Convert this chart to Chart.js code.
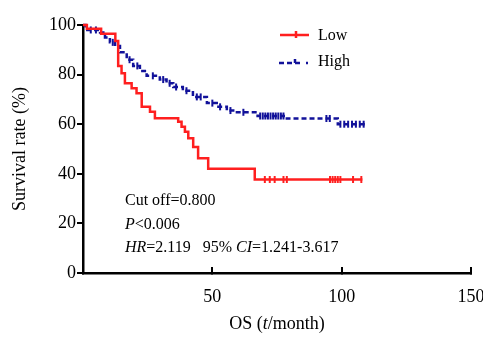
<!DOCTYPE html>
<html>
<head>
<meta charset="utf-8">
<script src="https://cdn.jsdelivr.net/npm/chart.js@4.4.0/dist/chart.umd.min.js"></script>
<style>
html, body { margin: 0; padding: 0; background: #fff; }
</style>
</head>
<body>
<canvas id="km" width="483" height="337"></canvas>
<script>
// Low group (red) - step points
var lowTime = [0, 1.5, 7, 12.5, 13.6, 14.9, 16.2, 18.8, 20.7, 22.7, 25.9, 27.8, 36.8, 38.1, 39.4, 40.7, 42.6, 44.5, 48.4, 66.4, 108];
var lowSurv = [100, 98.5, 96.5, 93.5, 83.5, 80.5, 76.5, 74.5, 72.5, 67, 65, 62.4, 61, 59, 57, 54.3, 50.8, 46.3, 42, 37.7, 37.7];
var lowCensor = [70.3, 72.2, 74.1, 77.5, 78.8, 95.5, 96.5, 97.5, 98.5, 99.5, 104.4, 107.6];

// High group (blue)
var highTime = [0, 1, 6.6, 8.5, 10.4, 12.4, 14.3, 16.9, 19.4, 22, 24.6, 29.7, 32.3, 34.9, 38.6, 42.5, 47.9, 51.7, 55.6, 59.5, 67.5, 78.8, 98.5, 109];
var highSurv = [100, 98, 97, 95, 93, 91.5, 89, 86, 83.5, 81.5, 79.5, 78, 76.5, 75, 73.5, 71, 68.5, 67, 65.5, 64.8, 63.3, 62.3, 60, 60];
var highCensor = [3, 5, 11.5, 18, 21, 27, 31, 33.5, 36, 40, 44, 45.5, 50, 53, 57, 62, 68.5, 69.5, 70.5, 71.5, 72.5, 73.5, 74.5, 75.5, 76.5, 77.5, 94.1, 95.4, 99.5, 101, 102.5, 104, 105.5, 107, 108.5];

var yTicks = [0, 20, 40, 60, 80, 100];
var xTicks = [0, 50, 100, 150];

var RED = '#ff1f1f';
var BLUE = '#12129a';
var SERIF = '"Liberation Serif", "Times New Roman", serif';

function survAt(T, S, t) {
    var s = S[0];
    for (var i = 0; i < T.length; i++) {
        if (T[i] <= t) s = S[i];
    }
    return s;
}
function pts(T, S) {
    return T.map(function (t, i) { return { x: t, y: S[i] }; });
}
function censorPts(C, T, S) {
    return C.map(function (t) { return { x: t, y: survAt(T, S, t) }; });
}

function drawRich(ctx, x, y, parts, size) {
    ctx.textBaseline = 'middle';
    ctx.textAlign = 'left';
    parts.forEach(function (p) {
        ctx.font = (p[1] ? 'italic ' : '') + size + 'px ' + SERIF;
        ctx.fillText(p[0], x, y);
        x += ctx.measureText(p[0]).width;
    });
}

var textPlugin = {
    id: 'kmText',
    afterDraw: function (chart) {
        var ctx = chart.ctx;
        ctx.save();
        ctx.fillStyle = '#000';
        // annotation
        drawRich(ctx, 125, 201, [['Cut off=0.800', false]], 16);
        drawRich(ctx, 125, 225, [['P', true], ['<0.006', false]], 16);
        drawRich(ctx, 125, 248, [['HR', true], ['=2.119   95% ', false], ['CI', true], ['=1.241-3.617', false]], 16);

        // legend
        ctx.lineWidth = 2.5;
        ctx.strokeStyle = RED;
        ctx.beginPath();
        ctx.moveTo(280, 35); ctx.lineTo(309, 35);
        ctx.moveTo(296, 31); ctx.lineTo(296, 38);
        ctx.stroke();
        ctx.strokeStyle = BLUE;
        ctx.setLineDash([5, 3]);
        ctx.beginPath();
        ctx.moveTo(279, 63); ctx.lineTo(303, 63);
        ctx.stroke();
        ctx.setLineDash([]);
        ctx.beginPath();
        ctx.moveTo(295, 59); ctx.lineTo(295, 63);
        ctx.moveTo(306, 63); ctx.lineTo(308, 63);
        ctx.stroke();
        drawRich(ctx, 318, 36, [['Low', false]], 16);
        drawRich(ctx, 318, 62, [['High', false]], 16);

        // x axis title
        var parts = [['OS (', false], ['t', true], ['/month)', false]];
        var w = 0;
        parts.forEach(function (p) {
            ctx.font = (p[1] ? 'italic ' : '') + '18px ' + SERIF;
            w += ctx.measureText(p[0]).width;
        });
        drawRich(ctx, 277 - w / 2, 324, parts, 18);
        ctx.restore();
    }
};

var chart = new Chart(document.getElementById('km'), {
    type: 'line',
    data: {
        datasets: [
            {
                label: 'Low',
                data: pts(lowTime, lowSurv),
                stepped: 'before',
                borderColor: RED,
                borderWidth: 2.5,
                pointRadius: 0,
                fill: false,
                clip: false
            },
            {
                label: 'High',
                data: pts(highTime, highSurv),
                stepped: 'before',
                borderColor: BLUE,
                borderWidth: 2.5,
                borderDash: [5, 3],
                pointRadius: 0,
                fill: false,
                clip: false
            },
            {
                label: 'Low censored',
                data: censorPts(lowCensor, lowTime, lowSurv),
                showLine: false,
                pointStyle: 'line',
                rotation: 90,
                pointRadius: 3.5,
                borderColor: RED,
                borderWidth: 2,
                clip: false
            },
            {
                label: 'High censored',
                data: censorPts(highCensor, highTime, highSurv),
                showLine: false,
                pointStyle: 'line',
                rotation: 90,
                pointRadius: 3.5,
                borderColor: BLUE,
                borderWidth: 2,
                clip: false
            }
        ]
    },
    options: {
        responsive: false,
        animation: false,
        layout: { padding: { left: 9, top: 25, right: 12, bottom: 0 } },
        plugins: {
            legend: { display: false },
            tooltip: { enabled: false }
        },
        scales: {
            x: {
                type: 'linear',
                min: 0,
                max: 150,
                afterBuildTicks: function (scale) {
                    scale.ticks = xTicks.map(function (v) { return { value: v }; });
                },
                afterFit: function (scale) {
                    scale.height = 64;
                    scale.paddingLeft = 0;
                    scale.paddingRight = 0;
                },
                ticks: {
                    color: '#000',
                    font: { family: SERIF, size: 18 },
                    padding: 19,
                    maxRotation: 0,
                    callback: function (v) { return v === 0 ? '' : v; }
                },
                grid: {
                    drawOnChartArea: false,
                    color: '#000',
                    lineWidth: 2,
                    tickLength: -6
                },
                border: { color: '#000', width: 2.5 }
            },
            y: {
                min: 0,
                max: 100,
                afterBuildTicks: function (scale) {
                    scale.ticks = yTicks.map(function (v) { return { value: v }; });
                },
                afterFit: function (scale) {
                    scale.width = 74;
                    scale.paddingTop = 0;
                    scale.paddingBottom = 0;
                },
                ticks: {
                    color: '#000',
                    font: { family: SERIF, size: 18 },
                    padding: 1
                },
                grid: {
                    drawOnChartArea: false,
                    color: '#000',
                    lineWidth: 2,
                    tickLength: 6
                },
                border: { color: '#000', width: 2.5 },
                title: {
                    display: true,
                    text: 'Survival rate (%)',
                    color: '#000',
                    font: { family: SERIF, size: 18 },
                    padding: { top: 0, bottom: 8 }
                }
            }
        }
    },
    plugins: [textPlugin]
});
</script>
</body>
</html>
